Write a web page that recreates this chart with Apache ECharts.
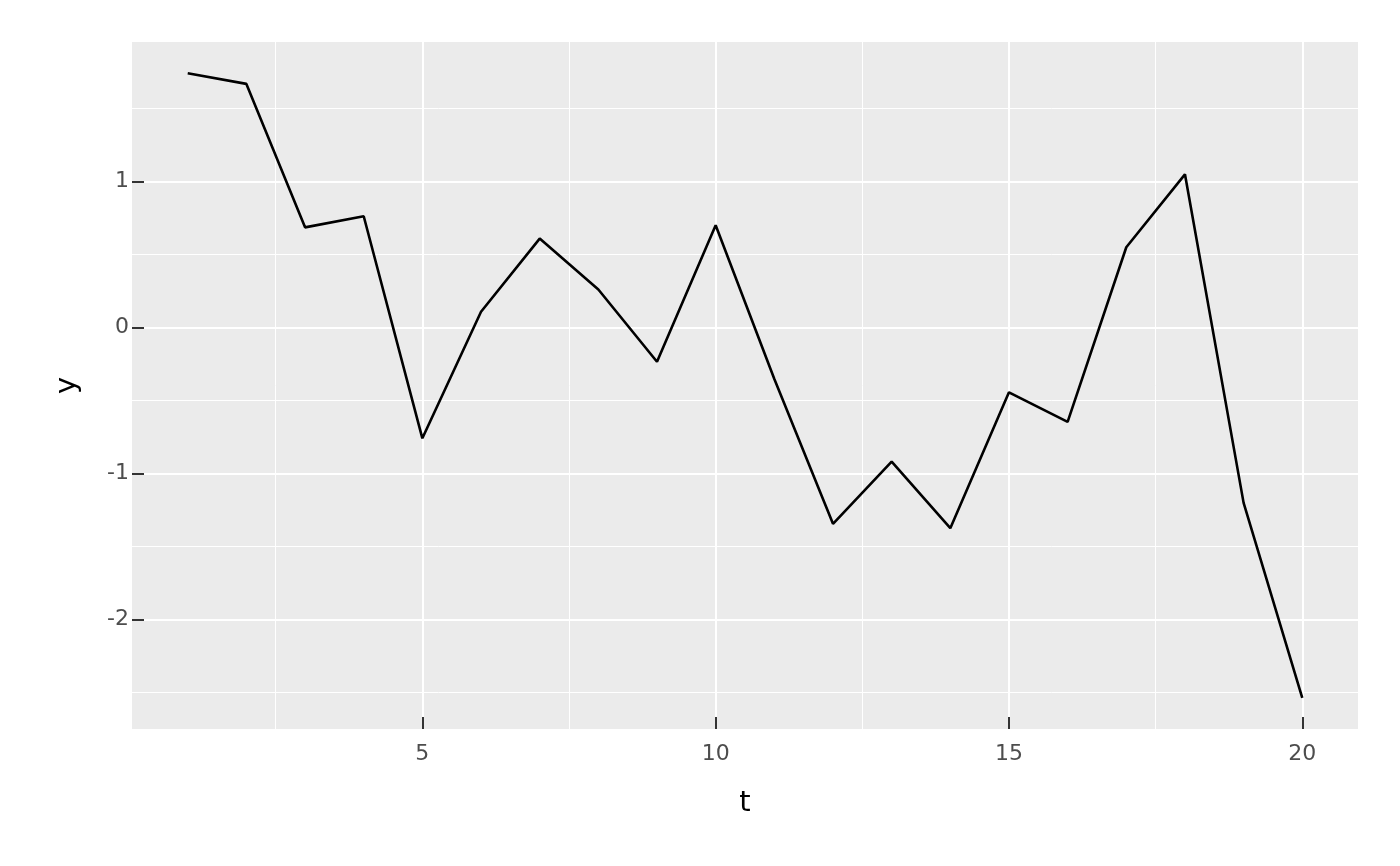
<!DOCTYPE html>
<html>
<head>
<meta charset="utf-8">
<script src="https://cdn.jsdelivr.net/npm/echarts@6/dist/echarts.min.js"></script>
<style>
html, body { margin: 0; padding: 0; background: #ffffff; }
#chart { width: 1400px; height: 866px; }
</style>
</head>
<body>
<div id="chart"></div>
<script>
// Data
const tValues = [1, 2, 3, 4, 5, 6, 7, 8, 9, 10, 11, 12, 13, 14, 15, 16, 17, 18, 19, 20];
const yValues = [1.740, 1.667, 0.685, 0.761, -0.759, 0.107, 0.608, 0.260, -0.235, 0.699,
                 -0.353, -1.344, -0.918, -1.374, -0.444, -0.647, 0.549, 1.048, -1.201, -2.535];
const xTickValues = [5, 10, 15, 20];
const yTickValues = [-2, -1, 0, 1];
const xMinorValues = [2.5, 7.5, 12.5, 17.5];
const yMinorValues = [-2.5, -1.5, -0.5, 0.5, 1.5];

// ggplot-style 5% expansion
function expand(arr) {
  const lo = Math.min(...arr), hi = Math.max(...arr);
  const pad = (hi - lo) * 0.05;
  return [lo - pad, hi + pad];
}
const xr = expand(tValues);
const yr = expand(yValues);

const seriesData = tValues.map((t, i) => [t, yValues[i]]);

const majorStyle = { color: '#ffffff', width: 2, type: 'solid' };
const minorStyle = { color: '#ffffff', width: 1, type: 'solid' };
const gridLines = []
  .concat(xMinorValues.map(v => ({ xAxis: v, lineStyle: minorStyle })))
  .concat(yMinorValues.map(v => ({ yAxis: v, lineStyle: minorStyle })))
  .concat(xTickValues.map(v => ({ xAxis: v, lineStyle: majorStyle })))
  .concat(yTickValues.map(v => ({ yAxis: v, lineStyle: majorStyle })));

const chart = echarts.init(document.getElementById('chart'), null, { renderer: 'canvas' });
chart.setOption({
  animation: false,
  backgroundColor: '#ffffff',
  textStyle: { fontFamily: 'DejaVu Sans' },
  grid: {
    left: 132, right: 42, top: 42, bottom: 137,
    show: true, backgroundColor: '#EBEBEB', borderWidth: 0
  },
  xAxis: {
    type: 'value',
    min: xr[0], max: xr[1],
    z: 5,
    name: 't',
    nameLocation: 'middle',
    nameGap: 60,
    nameTextStyle: { color: '#000000', fontSize: 29, fontFamily: 'DejaVu Sans' },
    axisLine: { show: false, onZero: false },
    axisTick: { show: true, inside: true, length: 12, customValues: xTickValues,
                lineStyle: { color: '#333333', width: 2 } },
    axisLabel: { show: true, customValues: xTickValues, margin: 14,
                 color: '#4D4D4D', fontSize: 22, fontFamily: 'DejaVu Sans' },
    splitLine: { show: false }
  },
  yAxis: {
    type: 'value',
    min: yr[0], max: yr[1],
    z: 5,
    name: 'y',
    nameLocation: 'middle',
    nameGap: 50,
    nameRotate: 90,
    nameTextStyle: { color: '#000000', fontSize: 29, fontFamily: 'DejaVu Sans' },
    axisLine: { show: false, onZero: false },
    axisTick: { show: true, inside: true, length: 12, customValues: yTickValues,
                lineStyle: { color: '#333333', width: 2 } },
    axisLabel: { show: true, customValues: yTickValues, margin: 3,
                 color: '#4D4D4D', fontSize: 22, fontFamily: 'DejaVu Sans',
                 formatter: v => String(v) },
    splitLine: { show: false }
  },
  series: [{
    type: 'line',
    data: seriesData,
    z: 3,
    showSymbol: false,
    symbol: 'none',
    lineStyle: { color: '#000000', width: 2.6 },
    markLine: {
      z: 1,
      silent: true,
      symbol: ['none', 'none'],
      label: { show: false },
      emphasis: { disabled: true },
      data: gridLines
    }
  }]
});
</script>
</body>
</html>
